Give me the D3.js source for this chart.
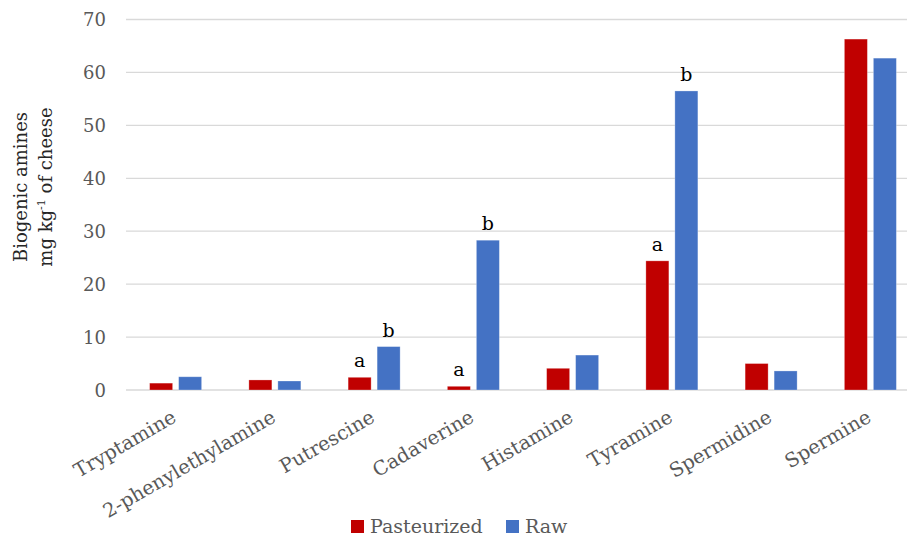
<!DOCTYPE html>
<html><head><meta charset="utf-8">
<script src="https://cdn.jsdelivr.net/npm/d3@7"></script>
<style>
body{margin:0;background:#fff;}
svg text{font-family:"Palatino Linotype","Book Antiqua",Palatino,"DejaVu Serif",serif;}
</style></head>
<body><svg id="c" width="907" height="536"></svg>
<script>
const categories = ["Tryptamine","2-phenylethylamine","Putrescine","Cadaverine","Histamine","Tyramine","Spermidine","Spermine"];
const pasteurized = [1.3, 1.9, 2.4, 0.7, 4.1, 24.4, 5.0, 66.3];
const raw = [2.5, 1.7, 8.2, 28.3, 6.6, 56.5, 3.6, 62.7];
const pastLetters = ["", "", "a", "a", "", "a", "", ""];
const rawLetters = ["", "", "b", "b", "", "b", "", ""];
const series = ["Pasteurized","Raw"];
const colors = ["#C00000","#4472C4"];
const yTicks = [0,10,20,30,40,50,60,70];

const svg = d3.select("#c");
const x = d3.scaleBand().domain(categories).range([126, 920]);
const y = d3.scaleLinear().domain([0,70]).range([390, 19.5]);
const barW = 23, gap = 6;

// gridlines
svg.append("g").selectAll("line").data(yTicks).join("line")
  .attr("x1",126).attr("x2",907).attr("y1",d=>y(d)).attr("y2",d=>y(d))
  .attr("stroke","#d9d9d9").attr("stroke-width",1.3);

// y axis labels
const yAxis = d3.axisLeft(y).tickValues(yTicks).tickSize(0).tickPadding(0);
const gy = svg.append("g").attr("transform","translate(106,0)").call(yAxis);
gy.select(".domain").remove();
gy.selectAll("text").attr("font-size",18).attr("fill","#595959")
  .style("font-family",'"DejaVu Serif",serif').attr("dy","0.35em");

// bars
const data = categories.map((c,i)=>({c, v:[pasteurized[i], raw[i]], l:[pastLetters[i], rawLetters[i]]}));
const g = svg.append("g");
data.forEach(d=>{
  const cx = x(d.c) + x.bandwidth()/2;
  d.v.forEach((v,j)=>{
    const bx = j===0 ? cx - gap/2 - barW : cx + gap/2;
    g.append("rect").attr("x",bx).attr("y",y(v)).attr("width",barW).attr("height",y(0)-y(v))
      .attr("fill",colors[j]).attr("stroke","#fff").attr("stroke-opacity",0.35).attr("stroke-width",0.8);
    if(d.l[j]) g.append("text").attr("x",bx+barW/2).attr("y",y(v)-10).attr("text-anchor","middle")
      .attr("font-size",19).attr("fill","#000").text(d.l[j]);
  });
});

// x labels
const gx = svg.append("g");
categories.forEach(c=>{
  const cx = x(c) + x.bandwidth()/2;
  gx.append("text").attr("transform",`translate(${cx+2},${421}) rotate(-30)`)
    .attr("text-anchor","end").attr("font-size",19.5).attr("fill","#595959").text(c);
});

// y title
const yt = svg.append("text").attr("transform","translate(0,187) rotate(-90)")
  .attr("text-anchor","middle").attr("font-size",18).attr("fill","#262626");
yt.append("tspan").attr("x",0).attr("y",27).text("Biogenic amines");
const t2 = yt.append("tspan").attr("x",0).attr("y",52);
t2.append("tspan").text("mg kg");
t2.append("tspan").attr("font-size",11).attr("dy",-7).text("-1");
t2.append("tspan").attr("dy",7).text(" of cheese");

// legend
const lg = svg.append("g");
const lx = [351, 506];
series.forEach((s,i)=>{
  lg.append("rect").attr("x",lx[i]).attr("y",520).attr("width",13).attr("height",13).attr("fill",colors[i]);
  lg.append("text").attr("x",lx[i]+19).attr("y",533).attr("font-size",19).attr("fill","#595959").text(s);
});
</script></body></html>
